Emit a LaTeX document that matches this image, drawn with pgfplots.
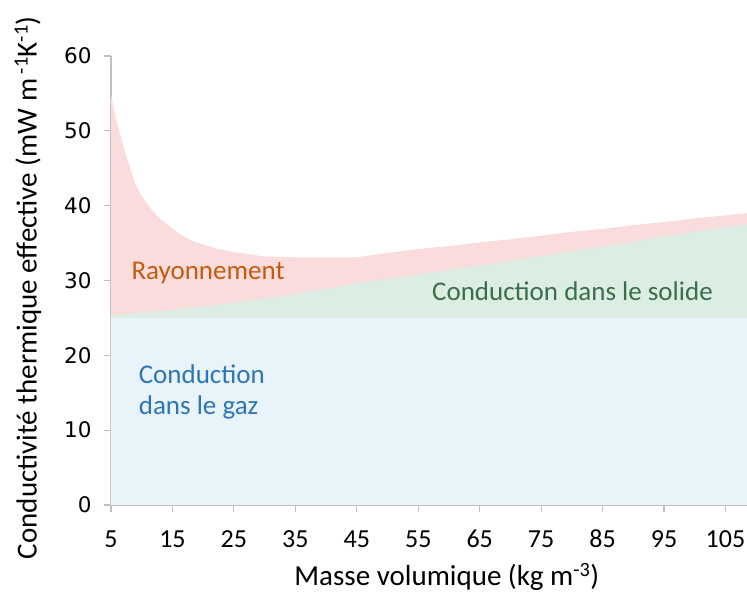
\documentclass[border=0pt]{standalone}
\usepackage{pgfplots}
\pgfplotsset{compat=1.18}
\usepackage{pgfplotstable}
\usepackage{fontspec}
\setmainfont{Carlito}
\newfontfamily\tickfont{DejaVu Sans}
\definecolor{gasc}{HTML}{E8F3FA}
\definecolor{solc}{HTML}{DCEDE4}
\definecolor{radc}{HTML}{FADCDC}
\definecolor{gast}{HTML}{2E75B6}
\definecolor{solt}{HTML}{3B6E4A}
\definecolor{radt}{HTML}{C55A11}
\definecolor{axc}{HTML}{BFBFBF}

% cumulative tops: gas, gas+solid, gas+solid+radiation
\pgfplotstableread{
x gas soltop tot
5 25 25.3 54.8
5.5 25 25.35 52.8
6 25 25.4 51.0
6.5 25 25.45 49.5
7 25 25.5 48.0
7.5 25 25.5 46.6
8 25 25.55 45.3
9 25 25.6 42.8
10 25 25.7 41.3
11 25 25.8 40.1
12 25 25.85 39.1
13 25 25.95 38.2
14 25 26.0 37.6
15 25 26.1 37.0
16 25 26.2 36.3
18 25 26.35 35.4
20 25 26.5 34.8
22.5 25 26.75 34.2
25 25 27.0 33.8
27.5 25 27.3 33.5
30 25 27.6 33.2
35 25 28.2 33.1
40 25 28.9 33.1
45 25 29.6 33.1
50 25 30.2 33.7
55 25 30.8 34.2
60 25 31.4 34.6
65 25 32.0 35.1
70 25 32.6 35.5
75 25 33.3 36.0
80 25 33.9 36.5
85 25 34.5 36.9
90 25 35.2 37.4
95 25 35.9 37.8
100 25 36.5 38.3
105 25 37.1 38.7
108.5 25 37.5 39.0
}\datatable

\begin{document}
\begin{tikzpicture}
\begin{axis}[
  scale only axis,
  width=636bp, height=449bp,
  xmin=5, xmax=108.5, ymin=0, ymax=60,
  xtick={5,15,...,105}, ytick={0,10,...,60},
  axis x line*=bottom, axis y line*=left,
  axis line style={axc, line width=1.2bp},
  tick style={axc, line width=1.2bp},
  tick align=outside, major tick length=7bp,
  /pgf/number format/assume math mode=true,
  xticklabel style={font=\fontsize{26bp}{30bp}\selectfont, anchor=base, yshift=-36bp},
  yticklabel style={font=\tickfont\fontsize{21.5bp}{24bp}\selectfont, xshift=-9bp},
  xlabel={Masse volumique (kg m\textsuperscript{-3})},
  ylabel={Conductivité thermique effective (mW m\textsuperscript{ -1}K\textsuperscript{-1})},
  xlabel style={font=\fontsize{29bp}{32bp}\selectfont, at={(axis description cs:0.528,-0.160)}, anchor=center},
  ylabel style={font=\fontsize{29bp}{32bp}\selectfont, at={(axis description cs:-0.1305,0.484)}, anchor=center},
  clip=false,
]
\addplot[draw=none, fill=radc] table[x=x, y=tot] {\datatable} \closedcycle;
\addplot[draw=none, fill=solc] table[x=x, y=soltop] {\datatable} \closedcycle;
\addplot[draw=none, fill=gasc] table[x=x, y=gas] {\datatable} \closedcycle;
\node[text=radt, font=\fontsize{27bp}{30bp}\selectfont] at (axis cs:20.8,31.0) {Rayonnement};
\node[text=solt, font=\fontsize{27bp}{30bp}\selectfont] at (axis cs:80.1,28.5) {Conduction dans le solide};
\node[text=gast, font=\fontsize{27bp}{31bp}\selectfont, align=left, anchor=west, inner sep=0pt] at (axis cs:9.5,15.1) {Conduction\\dans le gaz};
\coordinate (ll) at (rel axis cs:0,0);
\coordinate (ur) at (rel axis cs:1,1);
\end{axis}
\pgfresetboundingbox
\path[use as bounding box] ([shift={(-111bp,-89bp)}]ll) rectangle ([shift={(0bp,56bp)}]ur);
\end{tikzpicture}
\end{document}
